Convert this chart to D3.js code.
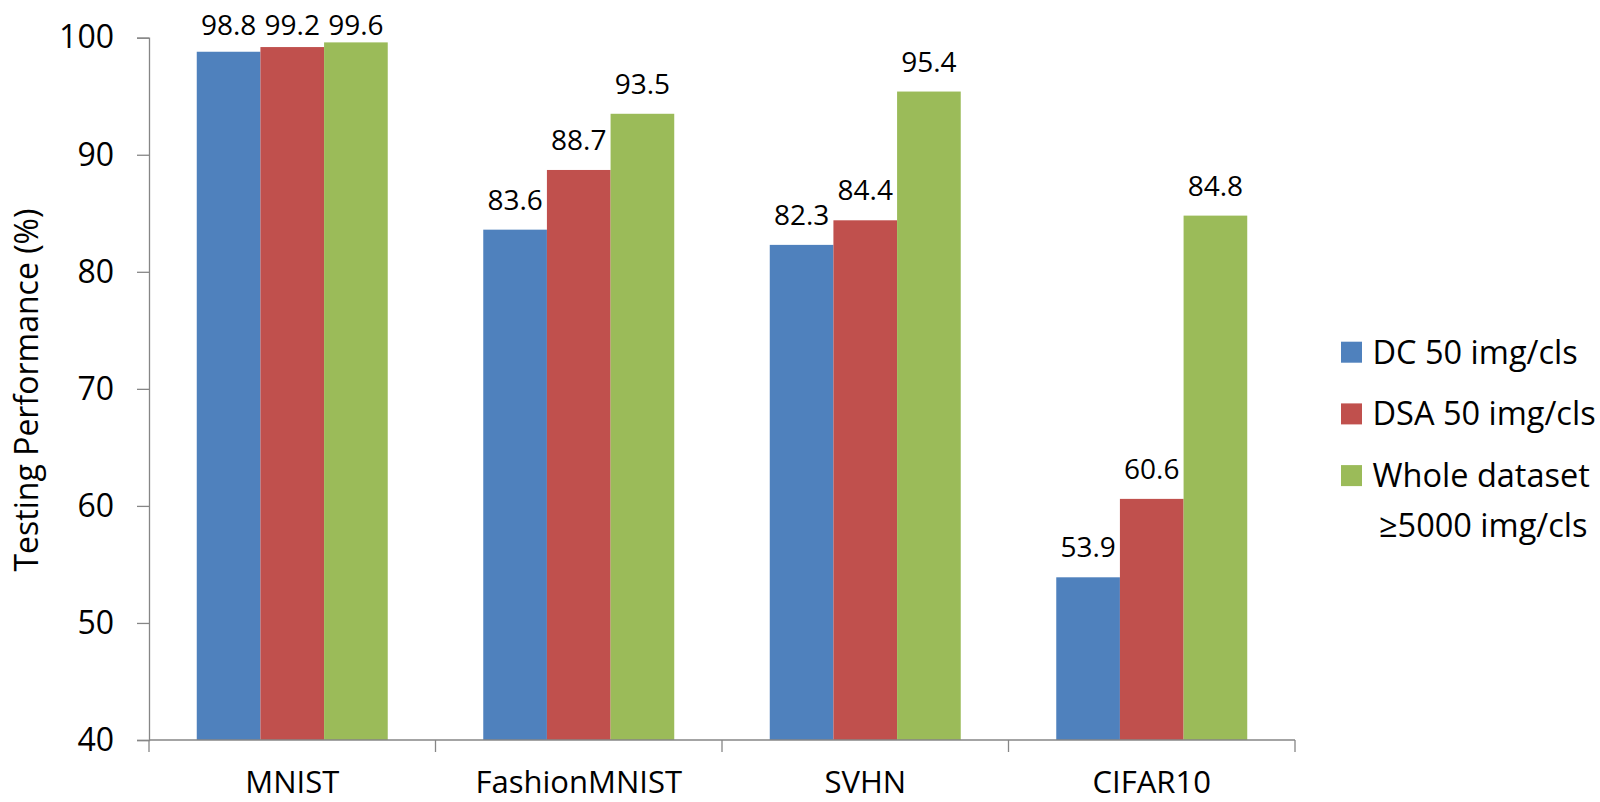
<!DOCTYPE html>
<html>
<head>
<meta charset="utf-8">
<script src="https://cdn.jsdelivr.net/npm/d3@7"></script>
<style>
  body { margin: 0; background: #fff; }
  text { font-family: "Open Sans", "Noto Sans", sans-serif; fill: #000; }
</style>
</head>
<body>
<svg id="chart" width="1600" height="802"></svg>
<script>
const categories = ["MNIST", "FashionMNIST", "SVHN", "CIFAR10"];
const seriesNames = ["DC 50 img/cls", "DSA 50 img/cls", "Whole dataset"];
const dcValues = [98.8, 83.6, 82.3, 53.9];
const dsaValues = [99.2, 88.7, 84.4, 60.6];
const wholeValues = [99.6, 93.5, 95.4, 84.8];
const yTicks = [40, 50, 60, 70, 80, 90, 100];
const colors = ["#4F81BD", "#C0504D", "#9BBB59"];

const series = [dcValues, dsaValues, wholeValues];

const svg = d3.select("#chart");

// Plot area
const plotLeft = 149, plotRight = 1295, plotTop = 37.7, plotBottom = 740;

const y = d3.scaleLinear().domain([40, 100]).range([plotBottom, plotTop]);
const x = d3.scaleBand().domain(categories).range([plotLeft, plotRight]).padding(0);
const xSub = d3
  .scaleBand()
  .domain(d3.range(series.length))
  .range([x.bandwidth() * 0.1667, x.bandwidth() * (1 - 0.1667)])
  .padding(0);

// Bars
const groups = svg
  .selectAll("g.group")
  .data(categories)
  .join("g")
  .attr("class", "group")
  .attr("transform", (d) => `translate(${x(d)},0)`);

groups
  .selectAll("rect")
  .data((d, i) => series.map((s, k) => ({ k, value: s[i] })))
  .join("rect")
  .attr("x", (d) => xSub(d.k))
  .attr("y", (d) => y(d.value))
  .attr("width", xSub.bandwidth())
  .attr("height", (d) => plotBottom - y(d.value))
  .attr("fill", (d) => colors[d.k]);

// Value labels (clamped inside plot area like the original)
groups
  .selectAll("text.val")
  .data((d, i) => series.map((s, k) => ({ k, value: s[i] })))
  .join("text")
  .attr("class", "val")
  .attr("x", (d) => xSub(d.k) + xSub.bandwidth() / 2)
  .attr("y", (d) => Math.max(y(d.value) - 20, plotTop - 2.5))
  .attr("text-anchor", "middle")
  .style("font-size", "28px")
  .text((d) => d.value.toFixed(1));

// Y axis
const yAxis = svg
  .append("g")
  .attr("transform", `translate(${plotLeft},0)`)
  .call(d3.axisLeft(y).tickValues(yTicks).tickSize(12).tickPadding(23));
yAxis.select(".domain").attr("stroke", "#868686").attr("stroke-width", 1.3);
yAxis.selectAll(".tick line").attr("stroke", "#868686").attr("stroke-width", 1.3);
yAxis
  .selectAll(".tick text")
  .style("font-size", "32px")
  .style("font-family", '"Open Sans", sans-serif')
  .attr("fill", "#000");

// X axis with ticks at band boundaries
svg
  .append("line")
  .attr("x1", plotLeft)
  .attr("x2", plotRight)
  .attr("y1", plotBottom)
  .attr("y2", plotBottom)
  .attr("stroke", "#868686")
  .attr("stroke-width", 1.3);

const boundaries = categories.map((c) => x(c)).concat([x(categories[categories.length - 1]) + x.bandwidth()]);
svg
  .selectAll("line.xtick")
  .data(boundaries)
  .join("line")
  .attr("class", "xtick")
  .attr("x1", (d) => d)
  .attr("x2", (d) => d)
  .attr("y1", plotBottom)
  .attr("y2", plotBottom + 12)
  .attr("stroke", "#868686")
  .attr("stroke-width", 1.3);

svg
  .selectAll("text.cat")
  .data(categories)
  .join("text")
  .attr("class", "cat")
  .attr("x", (d) => x(d) + x.bandwidth() / 2)
  .attr("y", 793)
  .attr("text-anchor", "middle")
  .style("font-size", "31px")
  .text((d) => d);

// Y title
svg
  .append("text")
  .attr("transform", `translate(38,390) rotate(-90)`)
  .attr("text-anchor", "middle")
  .style("font-size", "32px")
  .text("Testing Performance (%)");

// Legend
const legend = svg
  .selectAll("g.legend")
  .data(seriesNames)
  .join("g")
  .attr("class", "legend")
  .attr("transform", (d, i) => `translate(1341,${341.7 + i * 61.7})`);

legend
  .append("rect")
  .attr("width", 21)
  .attr("height", 21)
  .attr("fill", (d, i) => colors[i]);

legend
  .append("text")
  .attr("x", 31.5)
  .attr("y", 22)
  .style("font-size", "32.5px")
  .text((d) => d);

svg
  .append("text")
  .attr("x", 1379)
  .attr("y", 537)
  .style("font-size", "32.5px")
  .text("≥5000 img/cls");
</script>
</body>
</html>
